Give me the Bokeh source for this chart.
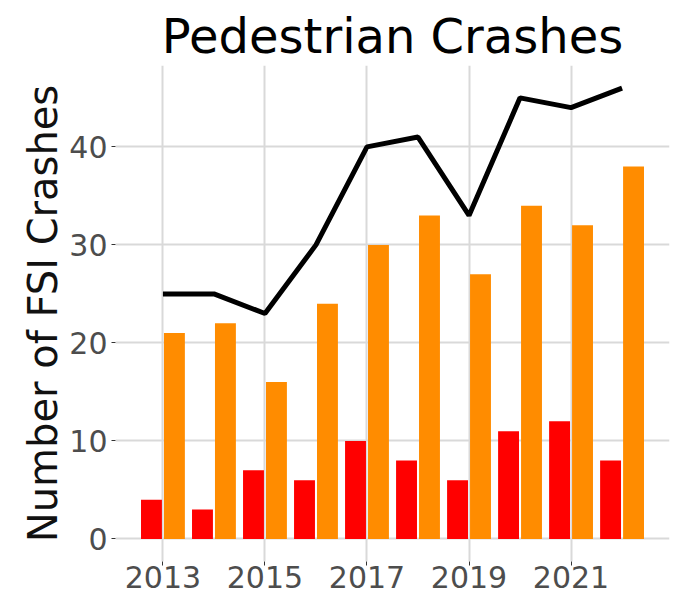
import numpy as np
from bokeh.plotting import figure
from bokeh.models import Range1d, FixedTicker
from bokeh.transform import dodge
from bokeh.models import ColumnDataSource
from bokeh.embed import file_html
from bokeh.resources import INLINE

years = [2013, 2014, 2015, 2016, 2017, 2018, 2019, 2020, 2021, 2022]
fatal = [4, 3, 7, 6, 10, 8, 6, 11, 12, 8]
serious = [21, 22, 16, 24, 30, 33, 27, 34, 32, 38]
total = [25, 25, 23, 30, 40, 41, 33, 45, 44, 46]
x_ticks = [2013, 2015, 2017, 2019, 2021]
y_ticks = [0, 10, 20, 30, 40]

src = ColumnDataSource(dict(year=years, fatal=fatal, serious=serious, total=total))

FONT = "DejaVu Sans"

p = figure(width=682, height=599, output_backend="svg", toolbar_location=None,
           x_range=Range1d(2012.07, 2022.93), y_range=Range1d(-2.3, 48.3),
           title="Pedestrian Crashes",
           min_border_left=115, min_border_right=13, min_border_top=65, min_border_bottom=38)

p.vbar(x=dodge("year", -0.225, range=p.x_range), top="fatal", width=0.41, bottom=0,
       source=src, fill_color="#ff0000", line_color=None)
p.vbar(x=dodge("year", 0.225, range=p.x_range), top="serious", width=0.41, bottom=0,
       source=src, fill_color="#ff8c00", line_color=None)
p.line(x="year", y="total", source=src, line_color="black", line_width=5)

p.title.text_font = FONT
p.title.text_font_size = "48px"
p.title.text_font_style = "normal"
p.title.align = "center"
p.title.vertical_align = "top"
p.title.text_color = "black"
p.title.standoff = 0

p.outline_line_color = None
p.background_fill_color = "white"
p.border_fill_color = "white"

p.xaxis.ticker = FixedTicker(ticks=x_ticks)
p.yaxis.ticker = FixedTicker(ticks=y_ticks)
for ax in (p.xaxis, p.yaxis):
    ax.axis_line_color = None
    ax.minor_tick_line_color = None
    ax.major_tick_line_color = "#333333"
    ax.major_tick_out = 4
    ax.major_tick_in = 0
    ax.major_label_text_font = FONT
    ax.major_label_text_font_size = "30px"
    ax.major_label_text_color = "#4d4d4d"
p.xaxis.major_label_standoff = 0
p.yaxis.major_label_standoff = 4

p.yaxis.axis_label = "Number of FSI Crashes"
p.yaxis.axis_label_text_font = FONT
p.yaxis.axis_label_text_font_size = "40px"
p.yaxis.axis_label_text_font_style = "normal"
p.yaxis.axis_label_text_color = "#111111"
p.yaxis.axis_label_standoff = 0

p.xgrid.ticker = FixedTicker(ticks=x_ticks)
p.ygrid.ticker = FixedTicker(ticks=y_ticks)
for g in (p.xgrid, p.ygrid):
    g.grid_line_color = "#d9d9d9"
    g.grid_line_width = 2

open("out.html", "w").write(file_html(p, INLINE))
